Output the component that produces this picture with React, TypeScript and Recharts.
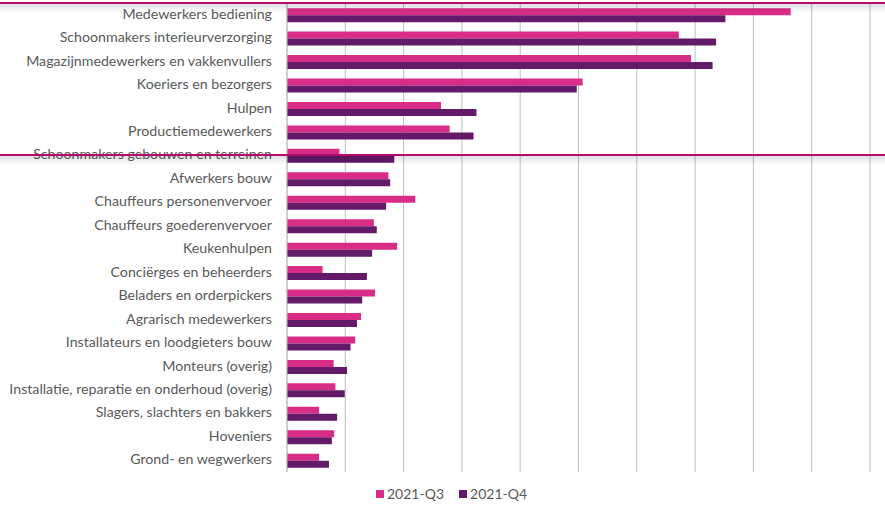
import { BarChart, Bar, XAxis, YAxis, CartesianGrid, Legend } from "recharts";

const categories = [
  "Medewerkers bediening",
  "Schoonmakers interieurverzorging",
  "Magazijnmedewerkers en vakkenvullers",
  "Koeriers en bezorgers",
  "Hulpen",
  "Productiemedewerkers",
  "Schoonmakers gebouwen en terreinen",
  "Afwerkers bouw",
  "Chauffeurs personenvervoer",
  "Chauffeurs goederenvervoer",
  "Keukenhulpen",
  "Conciërges en beheerders",
  "Beladers en orderpickers",
  "Agrarisch medewerkers",
  "Installateurs en loodgieters bouw",
  "Monteurs (overig)",
  "Installatie, reparatie en onderhoud (overig)",
  "Slagers, slachters en bakkers",
  "Hoveniers",
  "Grond- en wegwerkers",
];

const q3 = [8.64, 6.72, 6.93, 5.07, 2.64, 2.79, 0.9, 1.74, 2.2, 1.49, 1.89, 0.61, 1.51, 1.27, 1.17, 0.8, 0.83, 0.55, 0.81, 0.55];
const q4 = [7.52, 7.36, 7.3, 4.97, 3.25, 3.2, 1.84, 1.77, 1.7, 1.54, 1.46, 1.37, 1.29, 1.2, 1.09, 1.03, 0.99, 0.86, 0.77, 0.72];

const seriesNames = ["2021-Q3", "2021-Q4"];
const seriesColors = ["#D92C86", "#631A69"];
const xTicks = [0, 1, 2, 3, 4, 5, 6, 7, 8, 9, 10];

const data = categories.map((name, i) => ({ name, q3: q3[i], q4: q4[i] }));

const FONT = "Lato, 'Open Sans', sans-serif";

function ChartLegend() {
  return (
    <div style={{ display: "flex", gap: 15, fontFamily: FONT, fontSize: 14, color: "#595959" }}>
      {seriesNames.map((n, i) => (
        <span key={n} style={{ display: "flex", alignItems: "center" }}>
          <span style={{ width: 8, height: 8, background: seriesColors[i], marginRight: 3, display: "inline-block" }} />
          {n}
        </span>
      ))}
    </div>
  );
}

// magenta frame lines with a soft shadow underneath
function Highlight({ top }: { top: number }) {
  return (
    <>
      <div style={{ position: "absolute", left: 0, top, width: 885, height: 2, background: "#B5086C" }} />
      <div
        style={{
          position: "absolute",
          left: 0,
          top: top + 2,
          width: 885,
          height: 9,
          background: "linear-gradient(rgba(0,0,0,0.12), rgba(0,0,0,0))",
        }}
      />
    </>
  );
}

export default function App() {
  return (
    <div style={{ position: "absolute", left: 0, top: 0, width: 885, height: 505, background: "#fff" }}>
      <BarChart
        width={885}
        height={505}
        data={data}
        layout="vertical"
        margin={{ top: 3, right: 15, bottom: 16, left: 0 }}
        barCategoryGap="22%"
        barGap={0}
      >
        <CartesianGrid horizontal={false} stroke="#BFBFBF" />
        <XAxis type="number" domain={[0, 10]} ticks={xTicks} hide />
        <YAxis
          type="category"
          dataKey="name"
          width={287}
          interval={0}
          tickLine={false}
          tickSize={6}
          tickMargin={9}
          axisLine={{ stroke: "#BFBFBF" }}
          tick={{ fill: "#595959", fontSize: 14.2, fontFamily: FONT, dy: -1 }}
        />
        <Legend verticalAlign="bottom" align="left" wrapperStyle={{ left: 376, bottom: 3 }} content={<ChartLegend />} />
        <Bar dataKey="q3" name={seriesNames[0]} fill={seriesColors[0]} isAnimationActive={false} />
        <Bar dataKey="q4" name={seriesNames[1]} fill={seriesColors[1]} isAnimationActive={false} />
      </BarChart>
      <Highlight top={2} />
      <Highlight top={154} />
    </div>
  );
}
